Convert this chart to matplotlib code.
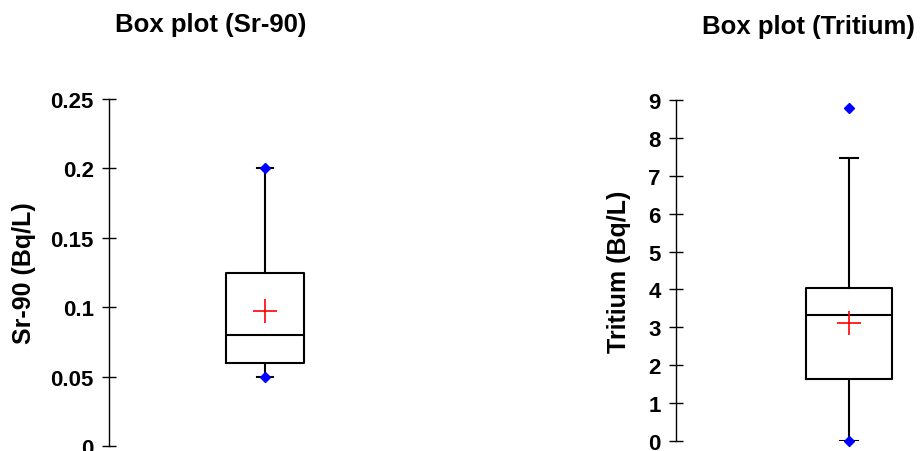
import matplotlib
matplotlib.use('Agg')
import matplotlib.pyplot as plt

plt.rcParams['font.family'] = ['Liberation Sans', 'DejaVu Sans']
plt.rcParams['font.weight'] = 'bold'

# summary values
titles = ['Box plot (Sr-90)', 'Box plot (Tritium)']
ylabels = ['Sr-90 (Bq/L)', 'Tritium (Bq/L)']
q1 = [0.06, 1.64]
median = [0.08, 3.32]
q3 = [0.125, 4.05]
whis_lo = [0.05, 0.0]
whis_hi = [0.2, 7.47]
means = [0.097, 3.11]
mins = [0.05, 0.0]
maxs = [0.2, 8.79]
yticks = [[0, 0.05, 0.1, 0.15, 0.2, 0.25], list(range(10))]
ytick_labels = [['0', '0.05', '0.1', '0.15', '0.2', '0.25'], [str(i) for i in range(10)]]

fig = plt.figure(figsize=(9.23, 4.52), dpi=100)
W, H = 923.0, 452.0
# axes boxes in pixels: left, bottom, right, top
boxes = [(109, 447, 421, 100), (676, 442, 1022, 101)]
label_x = [-0.234, -0.130]
title_pos = [(211, 25), (808, 27)]

for i in range(2):
    l, b, r, t = boxes[i]
    ax = fig.add_axes([l / W, 1 - b / H, (r - l) / W, (b - t) / H])
    stats = [{'q1': q1[i], 'med': median[i], 'q3': q3[i],
              'whislo': whis_lo[i], 'whishi': whis_hi[i], 'fliers': []}]
    ax.bxp(stats, positions=[1], widths=0.5, capwidths=0.1, showfliers=False,
           boxprops=dict(color='black', linewidth=1.5),
           medianprops=dict(color='black', linewidth=1.5),
           whiskerprops=dict(color='black', linewidth=1.5),
           capprops=dict(color='black', linewidth=1.5))
    ax.plot([1], [means[i]], marker='+', color='red', markersize=17,
            markeredgewidth=1.2, linestyle='none', zorder=4)
    ax.plot([1, 1], [mins[i], maxs[i]], marker='D', color='blue', markersize=5,
            linestyle='none', zorder=5, clip_on=False)
    ax.set_xlim(0, 2)
    ax.set_ylim(yticks[i][0], yticks[i][-1])
    ax.set_yticks(yticks[i])
    ax.set_yticklabels(ytick_labels[i], fontsize=16, fontweight='bold')
    ax.tick_params(axis='y', direction='inout', length=10, width=1, pad=6)
    ax.set_xticks([])
    for s in ['top', 'right', 'bottom']:
        ax.spines[s].set_visible(False)
    ax.spines['left'].set_linewidth(1)
    ax.set_ylabel(ylabels[i], fontsize=18, fontweight='bold')
    ax.yaxis.set_label_coords(label_x[i], 0.5)
    tx, ty = title_pos[i]
    fig.text(tx / W, 1 - ty / H, titles[i], fontsize=18.5, fontweight='bold',
             ha='center', va='center')

fig.savefig('out.png', dpi=100)
